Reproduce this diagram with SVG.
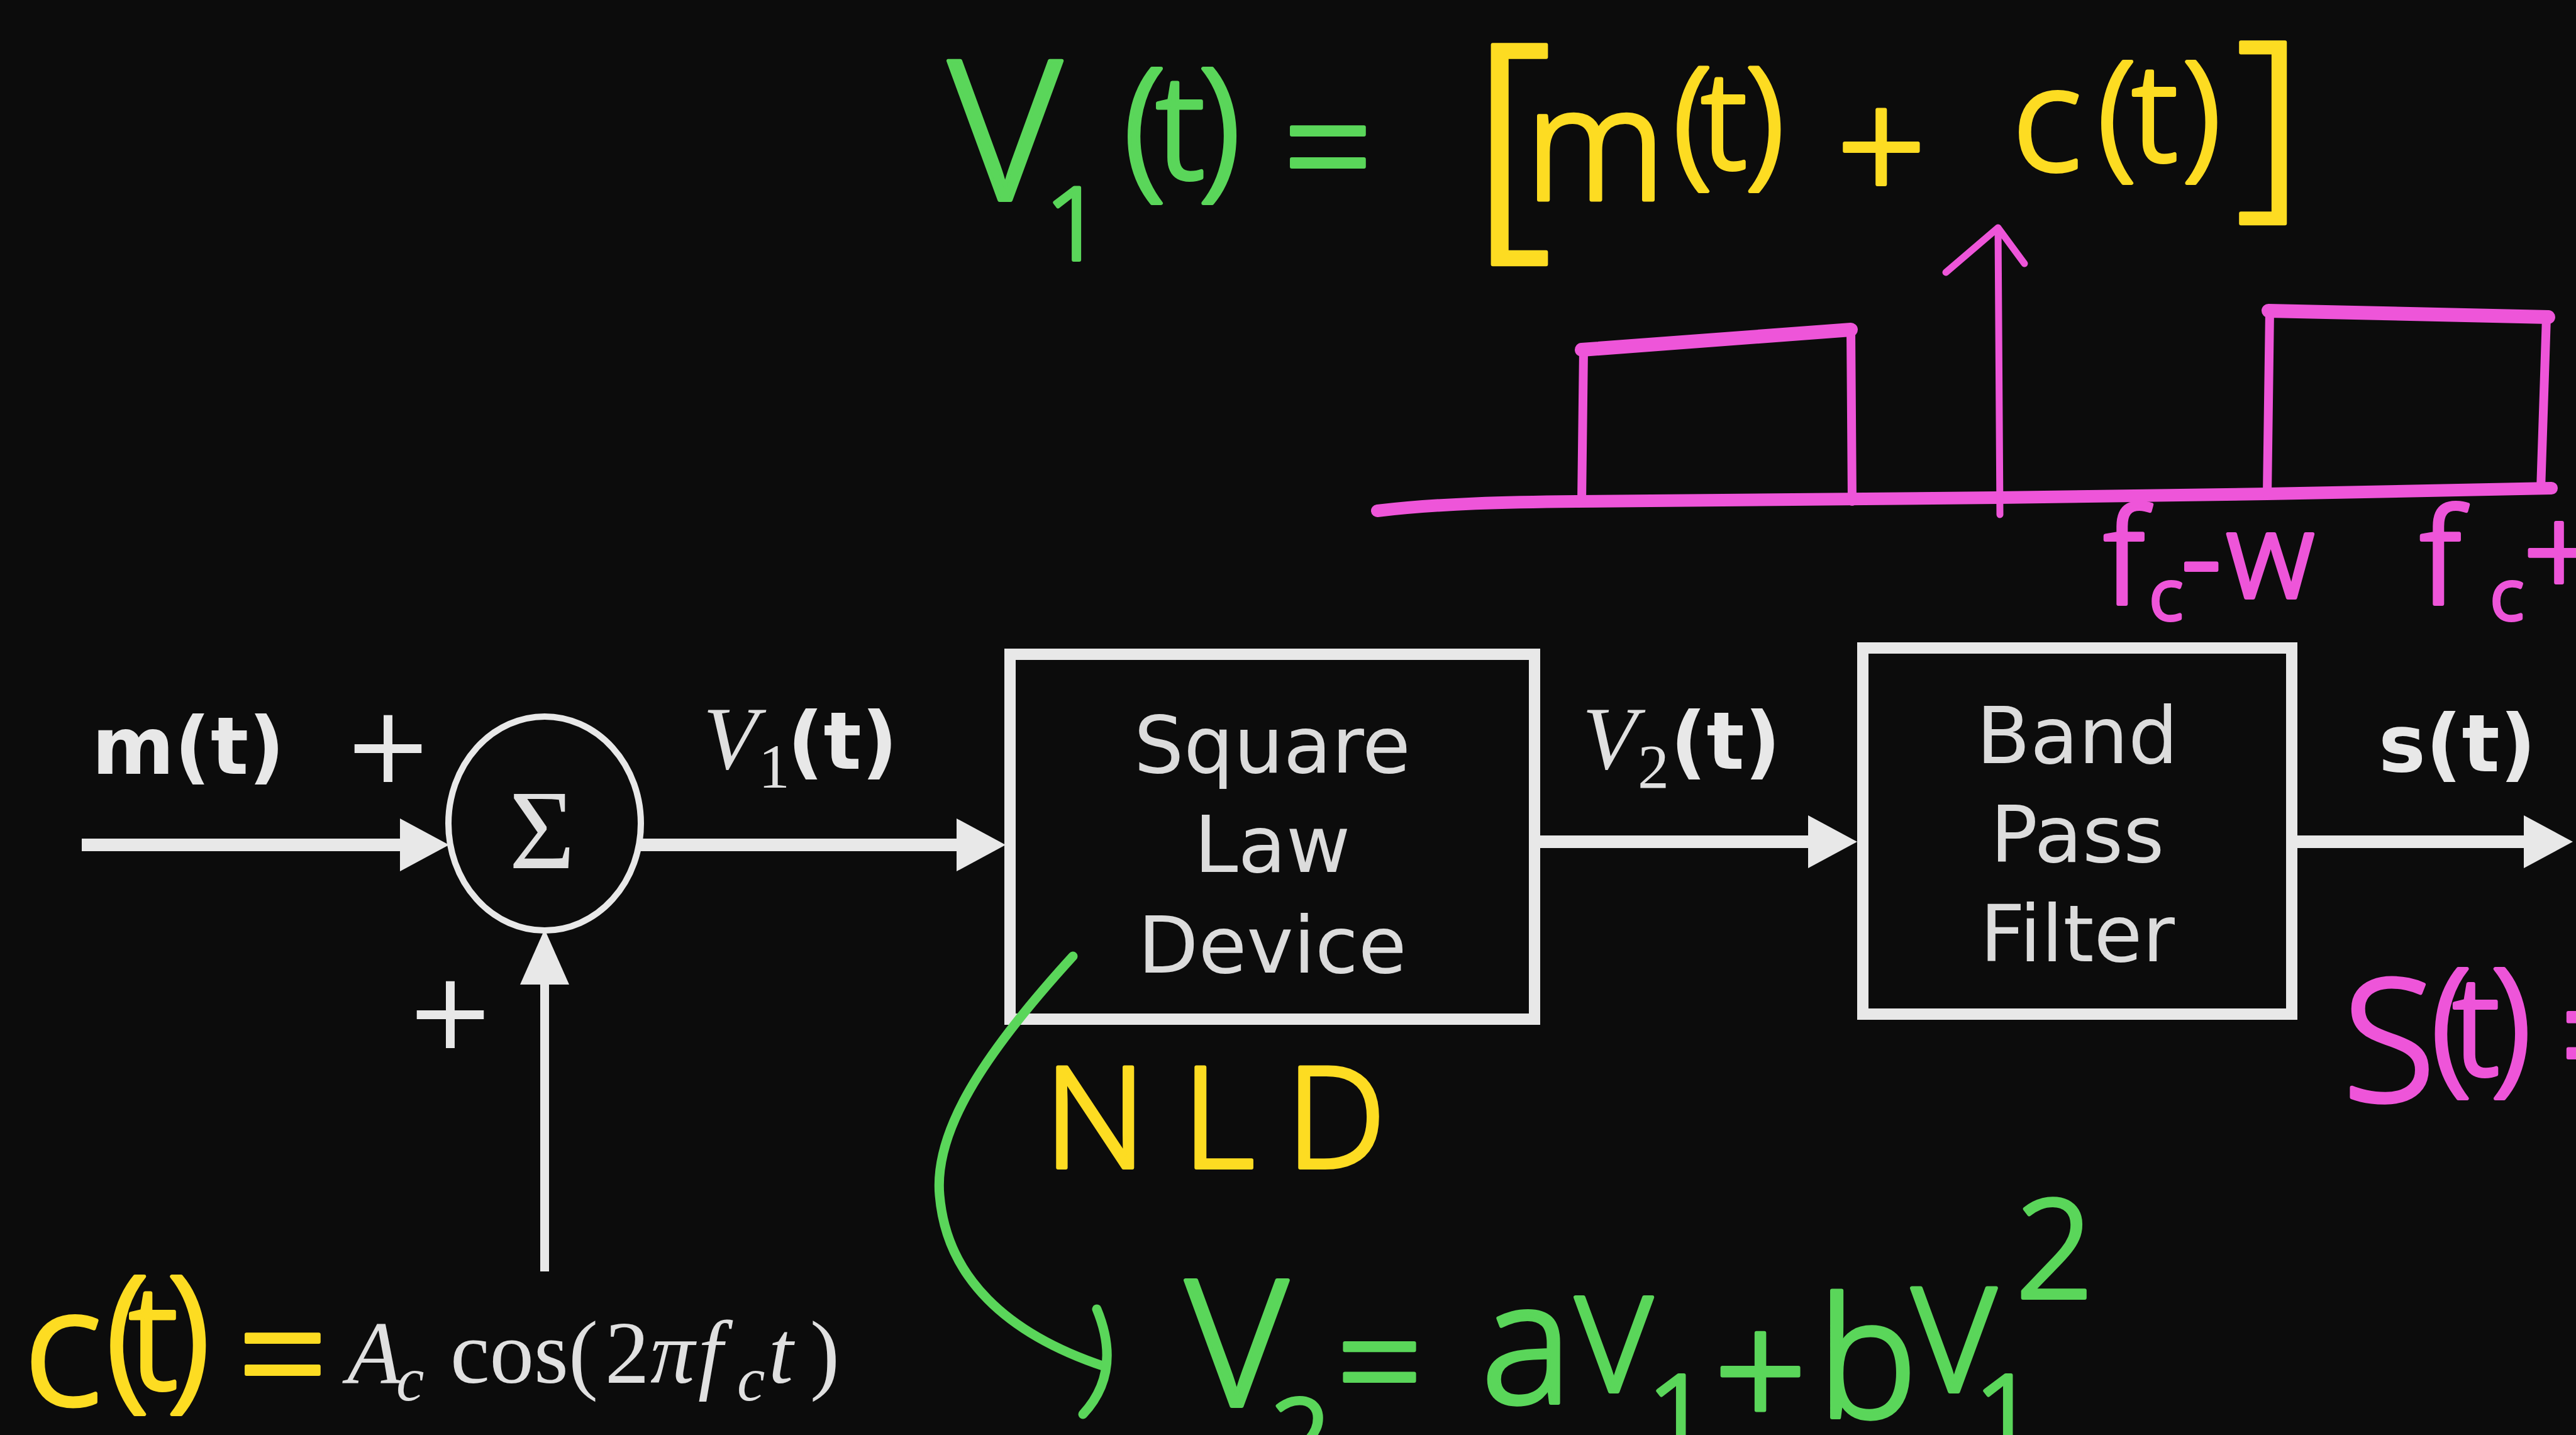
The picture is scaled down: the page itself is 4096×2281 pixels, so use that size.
<svg xmlns="http://www.w3.org/2000/svg" width="4096" height="2281" viewBox="0 0 4096 2281">
<defs>
<style>
.wire{fill:none;stroke:#e8e8e8;stroke-width:20}
.wire-v{fill:none;stroke:#e8e8e8;stroke-width:14}
.box{fill:#0c0c0c;stroke:#e8e8e8;stroke-width:18}
.sum{fill:#0c0c0c;stroke:#e8e8e8;stroke-width:10}
.blk{font-family:"DejaVu Sans",sans-serif;font-size:125px;fill:#dcdcdc;text-anchor:middle}
.lbl{font-family:"DejaVu Sans",sans-serif;font-weight:bold;font-size:126px;fill:#e8e8e8}
.ser{font-family:"Liberation Serif",serif;fill:#e0e0e0}
.it{font-style:italic}
.pl{font-family:"DejaVu Sans",sans-serif;font-size:170px;fill:#e8e8e8;text-anchor:middle}
.hw{font-family:"Noto Sans","DejaVu Sans",sans-serif;font-weight:300;stroke-width:6;stroke-linejoin:round;stroke-linecap:round}
.g{fill:#5ad65a;stroke:#5ad65a}
.y{fill:#fddc22;stroke:#fddc22}
.p{fill:#ee55d9;stroke:#ee55d9}
.pen-p{fill:none;stroke:#ee55d9;stroke-linecap:round;stroke-linejoin:round}
.pen-g{fill:none;stroke:#5ad65a;stroke-width:15;stroke-linecap:round;stroke-linejoin:round}
</style>
<marker id="ah" markerUnits="userSpaceOnUse" markerWidth="80" markerHeight="90" viewBox="0 -45 80 90" refX="0" refY="0" orient="auto">
<path d="M0,-42 L78,0 L0,42 Z" fill="#e8e8e8"/>
</marker>
<marker id="ahv" markerUnits="userSpaceOnUse" markerWidth="90" markerHeight="84" viewBox="0 -42 90 84" refX="0" refY="0" orient="auto">
<path d="M0,-39 L88,0 L0,39 Z" fill="#e8e8e8"/>
</marker>
</defs>
<rect x="0" y="0" width="4096" height="2281" fill="#0c0c0c"/>

<g id="connectors">
<path class="wire" d="M130,1343 H636" marker-end="url(#ah)"/>
<path class="wire" d="M1016,1343 H1521" marker-end="url(#ah)"/>
<path class="wire-v" d="M866,2021 V1565" marker-end="url(#ahv)"/>
<path class="wire" d="M2449,1338 H2875" marker-end="url(#ah)"/>
<path class="wire" d="M3653,1338 H4013" marker-end="url(#ah)"/>
</g>

<g id="node-sum">
<ellipse class="sum" cx="866" cy="1309" rx="153" ry="170"/>
<text class="ser" x="862" y="1380" font-size="180" text-anchor="middle">Σ</text>
</g>

<g id="node-square-law">
<rect class="box" x="1606" y="1040" width="834" height="580"/>
<text class="blk" x="2023" y="1228">Square</text>
<text class="blk" x="2023" y="1386">Law</text>
<text class="blk" x="2023" y="1546">Device</text>
</g>

<g id="node-bpf">
<rect class="box" x="2962" y="1030" width="682" height="582"/>
<text class="blk" x="3303" y="1213">Band</text>
<text class="blk" x="3303" y="1370">Pass</text>
<text class="blk" x="3303" y="1528">Filter</text>
</g>

<g id="labels">
<text class="lbl" x="146" y="1230">m(t)</text>
<text class="pl" x="617" y="1243">+</text>
<text class="pl" x="716" y="1666">+</text>
<text class="ser it" x="1118" y="1222" font-size="142">V</text>
<text class="ser" x="1206" y="1252" font-size="100">1</text>
<text class="lbl" x="1252" y="1222">(t)</text>
<text class="ser it" x="2516" y="1222" font-size="142">V</text>
<text class="ser" x="2604" y="1252" font-size="100">2</text>
<text class="lbl" x="2656" y="1222">(t)</text>
<text class="lbl" x="3782" y="1226">s(t)</text>
<text class="ser" y="2198" font-size="141"><tspan class="it" x="552">A</tspan><tspan class="it" x="630" y="2226" font-size="100">c</tspan><tspan x="716" y="2198">cos(</tspan><tspan x="962">2</tspan><tspan class="it" x="1034">π</tspan><tspan class="it" x="1110">f</tspan><tspan class="it" x="1172" y="2226" font-size="100">c</tspan><tspan class="it" x="1222" y="2198">t</tspan><tspan x="1288">)</tspan></text>
</g>

<g id="spectrum">
<path class="pen-p" stroke-width="20" d="M2190,812 C2290,800 2400,798 2507,797 L3177,791 L3605,785 L4057,776"/>
<path class="pen-p" stroke-width="14" d="M2515,797 L2518,556 M2943,524 L2945,797"/>
<path class="pen-p" stroke-width="22" d="M2515,556 L2943,524"/>
<path class="pen-p" stroke-width="14" d="M3605,785 L3609,494 M4049,504 L4040,778"/>
<path class="pen-p" stroke-width="22" d="M3607,494 L4052,504"/>
<path class="pen-p" stroke-width="11" d="M3180,818 L3177,362 M3094,433 L3177,362 L3219,419"/>
<text class="hw p"><tspan x="3345" y="960" font-size="210">f</tspan><tspan x="3418" y="985" font-size="110">c</tspan><tspan x="3468" y="955" font-size="200">-</tspan><tspan x="3540" y="950" font-size="190">w</tspan></text>
<text class="hw p"><tspan x="3848" y="960" font-size="210">f</tspan><tspan x="3960" y="985" font-size="110">c</tspan><tspan x="4012" y="950" font-size="200">+w</tspan></text>
</g>

<g id="ann-v1-eq">
<text class="hw g"><tspan x="1508" y="318" font-size="310">V</tspan><tspan x="1662" y="413" font-size="160">1</tspan><tspan x="1786" y="284" font-size="245">(</tspan><tspan x="1838" y="284" font-size="230">t</tspan><tspan x="1905" y="284" font-size="245">)</tspan><tspan x="2040" y="322" font-size="250">=</tspan></text>
<text class="hw y"><tspan x="2340" y="357" font-size="400">[</tspan><tspan x="2425" y="318" font-size="250">m</tspan><tspan x="2660" y="268" font-size="225">(</tspan><tspan x="2705" y="268" font-size="215">t</tspan><tspan x="2775" y="268" font-size="225">)</tspan><tspan x="2920" y="322" font-size="250">+</tspan><tspan x="3200" y="271" font-size="230">c</tspan><tspan x="3335" y="256" font-size="221">(</tspan><tspan x="3390" y="256" font-size="215">t</tspan><tspan x="3470" y="256" font-size="221">)</tspan><tspan x="3555" y="303" font-size="330">]</tspan></text>
</g>

<g id="ann-ct">
<text class="hw y"><tspan x="38" y="2233" font-size="260">c</tspan><tspan x="168" y="2208" font-size="250">(</tspan><tspan x="205" y="2208" font-size="230">t</tspan><tspan x="265" y="2208" font-size="250">)</tspan><tspan x="378" y="2241" font-size="250">=</tspan></text>
</g>

<g id="ann-nld">
<text class="hw y" font-size="223"><tspan x="1660" y="1856">N</tspan><tspan x="1880" y="1856">L</tspan><tspan x="2045" y="1856">D</tspan></text>
<path class="pen-g" d="M1706,1520 C1560,1680 1485,1800 1494,1900 C1505,2030 1600,2120 1756,2172"/>
<path class="pen-g" d="M1744,2081 Q1785,2180 1722,2248"/>
<text class="hw g"><tspan x="1885" y="2235" font-size="280">V</tspan><tspan x="2020" y="2345" font-size="170">2</tspan><tspan x="2125" y="2250" font-size="240">=</tspan><tspan x="2355" y="2230" font-size="270">a</tspan><tspan x="2505" y="2212" font-size="210">V</tspan><tspan x="2620" y="2307" font-size="170">1</tspan><tspan x="2725" y="2272" font-size="260">+</tspan><tspan x="2890" y="2253" font-size="265">b</tspan><tspan x="3040" y="2212" font-size="230">V</tspan><tspan x="3140" y="2307" font-size="170">1</tspan><tspan x="3205" y="2063" font-size="217">2</tspan></text>
</g>

<g id="ann-st">
<text class="hw p"><tspan x="3725" y="1750" font-size="270">S</tspan><tspan x="3865" y="1709" font-size="235">(</tspan><tspan x="3900" y="1709" font-size="220">t</tspan><tspan x="3960" y="1709" font-size="235">)</tspan><tspan x="4068" y="1746" font-size="285">=</tspan></text>
</g>
</svg>
